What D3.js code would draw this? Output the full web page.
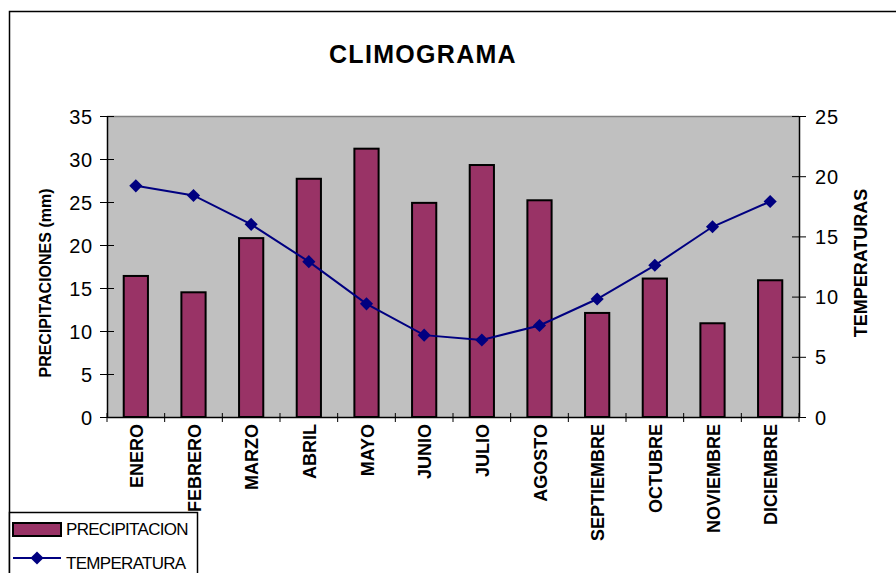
<!DOCTYPE html>
<html><head><meta charset="utf-8">
<script src="https://cdn.jsdelivr.net/npm/d3@7"></script>
<style>body{margin:0;background:#fff}svg{display:block}text{font-family:Arial,"Liberation Sans",sans-serif}</style>
</head><body>
<svg id="c" width="896" height="573"></svg>
<script>
const months = ["ENERO","FEBRERO","MARZO","ABRIL","MAYO","JUNIO","JULIO","AGOSTO","SEPTIEMBRE","OCTUBRE","NOVIEMBRE","DICIEMBRE"];
const precipitacion = [16.4,14.5,20.8,27.7,31.2,24.9,29.3,25.2,12.1,16.1,10.9,15.9];
const temperatura = [19.2,18.4,16.0,12.9,9.4,6.8,6.4,7.6,9.8,12.6,15.8,17.9];
const leftTicks = [0,5,10,15,20,25,30,35];
const rightTicks = [0,5,10,15,20,25];

const svg = d3.select("#c");
const L=107,R=799,T=116,B=417;
svg.append("rect").attr("x",9.5).attr("y",11.5).attr("width",1000).attr("height",1000).attr("fill","#fff").attr("stroke","#000").attr("stroke-width",1.5);

svg.append("text").attr("x",423).attr("y",63).attr("text-anchor","middle").attr("font-size",25).attr("font-weight","bold").attr("letter-spacing",1.3).text("CLIMOGRAMA");

const x = d3.scaleBand().domain(months).range([L,R]).paddingInner(0.58).paddingOuter(0.29);
const xb = d3.scaleBand().domain(months).range([L,R]);
const yL = d3.scaleLinear().domain([0,35]).range([B,T]);
const yR = d3.scaleLinear().domain([0,25]).range([B,T]);

svg.append("rect").attr("x",L).attr("y",T).attr("width",R-L).attr("height",B-T).attr("fill","#c0c0c0");
svg.append("line").attr("x1",L).attr("x2",R).attr("y1",T+0.5).attr("y2",T+0.5).attr("stroke","#808080").attr("stroke-width",1.5);

svg.selectAll("rect.bar").data(precipitacion).join("rect").attr("class","bar")
 .attr("x",(d,i)=>x(months[i])).attr("width",x.bandwidth())
 .attr("y",d=>yL(d)).attr("height",d=>B-yL(d))
 .attr("fill","#993366").attr("stroke","#000").attr("stroke-width",2);

const gl = svg.append("g").attr("transform",`translate(${L},0)`).call(d3.axisLeft(yL).tickValues(leftTicks).tickSizeInner(7).tickSizeOuter(0).tickPadding(7));
gl.selectAll(".tick line").attr("x2",-7).attr("x1",7);
const gr = svg.append("g").attr("transform",`translate(${R},0)`).call(d3.axisRight(yR).tickValues(rightTicks).tickSizeInner(7).tickSizeOuter(0).tickPadding(9));
gr.selectAll(".tick line").attr("x1",-7).attr("x2",7);
[gl,gr].forEach(g=>{g.selectAll("text").attr("font-size",20).attr("letter-spacing",0.8).attr("fill","#000").attr("font-family","Arial,'Liberation Sans',sans-serif");
 g.select(".domain").attr("stroke","#000").attr("stroke-width",1.5); g.selectAll(".tick line").attr("stroke","#000");});
gl.selectAll("text").attr("dy","0.35em");
gr.selectAll("text").attr("dy","0.35em");

const gb = svg.append("g").attr("transform",`translate(0,${B})`).call(d3.axisBottom(xb).tickSize(0).tickFormat(""));
gb.select(".domain").attr("stroke","#000").attr("stroke-width",1.5);
const bounds = months.map(m=>xb(m)).concat([R]);
svg.selectAll("line.xt").data(bounds).join("line").attr("class","xt")
 .attr("x1",d=>d).attr("x2",d=>d).attr("y1",B-4).attr("y2",B+5).attr("stroke","#000");
svg.selectAll("text.xl").data(months).join("text").attr("class","xl")
 .attr("transform",d=>`translate(${xb(d)+xb.bandwidth()/2+7},${B+7}) rotate(-90)`)
 .attr("text-anchor","end").attr("font-size",18).attr("font-weight","bold").text(d=>d);

const line = d3.line().x((d,i)=>xb(months[i])+xb.bandwidth()/2).y(d=>yR(d));
svg.append("path").datum(temperatura).attr("d",line).attr("fill","none").attr("stroke","#000080").attr("stroke-width",2);
const sym = d3.symbol().type(d3.symbolDiamond2).size(110);
svg.selectAll("path.mk").data(temperatura).join("path").attr("class","mk")
 .attr("transform",(d,i)=>`translate(${xb(months[i])+xb.bandwidth()/2},${yR(d)})`).attr("d",sym).attr("fill","#000080");

svg.append("text").attr("transform",`translate(51,283) rotate(-90)`).attr("text-anchor","middle").attr("font-size",16).attr("font-weight","bold").text("PRECIPITACIONES (mm)");
svg.append("text").attr("transform",`translate(867,263) rotate(-90)`).attr("text-anchor","middle").attr("font-size",18).attr("font-weight","bold").text("TEMPERATURAS");

const lg = svg.append("g");
lg.append("rect").attr("x",9.5).attr("y",512.5).attr("width",188).attr("height",80).attr("fill","#fff").attr("stroke","#000").attr("stroke-width",1.5);
lg.append("rect").attr("x",13).attr("y",523).attr("width",48).attr("height",13).attr("fill","#993366").attr("stroke","#000").attr("stroke-width",2);
lg.append("text").attr("x",66).attr("y",535).attr("font-size",17).attr("letter-spacing",-0.7).text("PRECIPITACION");
lg.append("line").attr("x1",13).attr("x2",61).attr("y1",558).attr("y2",558).attr("stroke","#000080").attr("stroke-width",2);
lg.append("path").attr("transform","translate(37,558)").attr("d",sym).attr("fill","#000080");
lg.append("text").attr("x",66).attr("y",569).attr("font-size",17).attr("letter-spacing",-0.7).text("TEMPERATURA");
</script>
</body></html>
